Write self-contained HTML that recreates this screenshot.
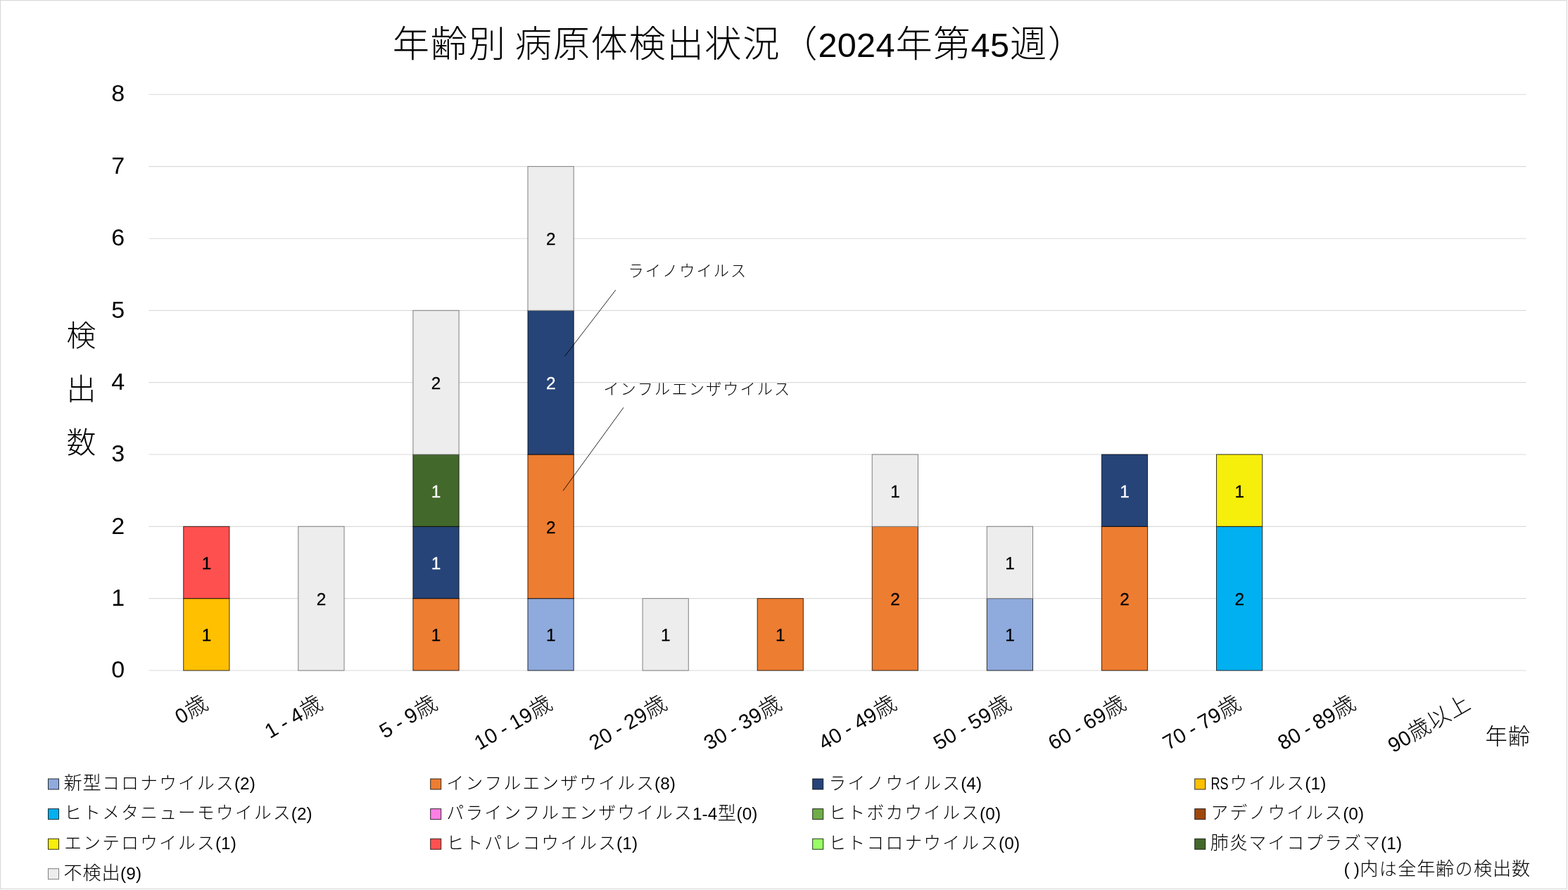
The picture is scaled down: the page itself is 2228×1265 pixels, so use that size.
<!DOCTYPE html>
<html lang="ja"><head><meta charset="utf-8"><title>年齢別 病原体検出状況（2024年第45週）</title>
<style>
html,body{margin:0;padding:0;background:#fff;}
body{width:2228px;height:1265px;overflow:hidden;}
svg{display:block;}
text{font-family:"Liberation Sans", "Noto Sans CJK JP", sans-serif;}
.l{font-family:"Liberation Sans", sans-serif;}
.j{font-family:"Liberation Sans", "Noto Sans CJK JP", sans-serif;}
</style></head><body>
<svg width="2228" height="1265" viewBox="0 0 2228 1265" role="img" aria-label="年齢別 病原体検出状況">
<rect x="0" y="0" width="2228" height="1265" fill="#fff"/>
<rect x="0.6" y="0.6" width="2225.8" height="1262.8" fill="none" stroke="#DADADA" stroke-width="1.2"/>
<g stroke="#D9D9D9" stroke-width="1.15" fill="none">
<line x1="211.5" y1="953.00" x2="2168.5" y2="953.00"/>
<line x1="211.5" y1="850.66" x2="2168.5" y2="850.66"/>
<line x1="211.5" y1="748.32" x2="2168.5" y2="748.32"/>
<line x1="211.5" y1="645.98" x2="2168.5" y2="645.98"/>
<line x1="211.5" y1="543.64" x2="2168.5" y2="543.64"/>
<line x1="211.5" y1="441.30" x2="2168.5" y2="441.30"/>
<line x1="211.5" y1="338.96" x2="2168.5" y2="338.96"/>
<line x1="211.5" y1="236.62" x2="2168.5" y2="236.62"/>
<line x1="211.5" y1="134.28" x2="2168.5" y2="134.28"/>
</g>
<g stroke-width="1">
<rect x="260.74" y="850.66" width="65.20" height="102.34" fill="#FFC000" stroke="#000" stroke-opacity="0.78"/>
<rect x="260.74" y="748.32" width="65.20" height="102.34" fill="#FF5050" stroke="#000" stroke-opacity="0.78"/>
<rect x="423.82" y="748.32" width="65.20" height="204.68" fill="#EDEDED" stroke="#7F7F7F"/>
<rect x="586.91" y="850.66" width="65.20" height="102.34" fill="#ED7D31" stroke="#000" stroke-opacity="0.78"/>
<rect x="586.91" y="748.32" width="65.20" height="102.34" fill="#264478" stroke="#000" stroke-opacity="0.78"/>
<rect x="586.91" y="645.98" width="65.20" height="102.34" fill="#43682B" stroke="#000" stroke-opacity="0.78"/>
<rect x="586.91" y="441.30" width="65.20" height="204.68" fill="#EDEDED" stroke="#7F7F7F"/>
<rect x="749.99" y="850.66" width="65.20" height="102.34" fill="#8FAADC" stroke="#000" stroke-opacity="0.78"/>
<rect x="749.99" y="645.98" width="65.20" height="204.68" fill="#ED7D31" stroke="#000" stroke-opacity="0.78"/>
<rect x="749.99" y="441.30" width="65.20" height="204.68" fill="#264478" stroke="#000" stroke-opacity="0.78"/>
<rect x="749.99" y="236.62" width="65.20" height="204.68" fill="#EDEDED" stroke="#7F7F7F"/>
<rect x="913.07" y="850.66" width="65.20" height="102.34" fill="#EDEDED" stroke="#7F7F7F"/>
<rect x="1076.16" y="850.66" width="65.20" height="102.34" fill="#ED7D31" stroke="#000" stroke-opacity="0.78"/>
<rect x="1239.24" y="748.32" width="65.20" height="204.68" fill="#ED7D31" stroke="#000" stroke-opacity="0.78"/>
<rect x="1239.24" y="645.98" width="65.20" height="102.34" fill="#EDEDED" stroke="#7F7F7F"/>
<rect x="1402.33" y="850.66" width="65.20" height="102.34" fill="#8FAADC" stroke="#000" stroke-opacity="0.78"/>
<rect x="1402.33" y="748.32" width="65.20" height="102.34" fill="#EDEDED" stroke="#7F7F7F"/>
<rect x="1565.41" y="748.32" width="65.20" height="204.68" fill="#ED7D31" stroke="#000" stroke-opacity="0.78"/>
<rect x="1565.41" y="645.98" width="65.20" height="102.34" fill="#264478" stroke="#000" stroke-opacity="0.78"/>
<rect x="1728.49" y="748.32" width="65.20" height="204.68" fill="#00B0F0" stroke="#000" stroke-opacity="0.78"/>
<rect x="1728.49" y="645.98" width="65.20" height="102.34" fill="#F6EE0B" stroke="#000" stroke-opacity="0.78"/>
</g>
<text fill="#000" xml:space="preserve"><tspan class="l" x="286.67" y="911.33" font-size="24.35" stroke="#000" stroke-width="0.3">1</tspan></text>
<text fill="#000" xml:space="preserve"><tspan class="l" x="286.67" y="808.99" font-size="24.35" stroke="#000" stroke-width="0.3">1</tspan></text>
<text fill="#000" xml:space="preserve"><tspan class="l" x="449.76" y="860.16" font-size="24.35" stroke="#000" stroke-width="0.3">2</tspan></text>
<text fill="#000" xml:space="preserve"><tspan class="l" x="612.84" y="911.33" font-size="24.35" stroke="#000" stroke-width="0.3">1</tspan></text>
<text fill="#fff" xml:space="preserve"><tspan class="l" x="612.84" y="808.99" font-size="24.35" stroke="#fff" stroke-width="0.3">1</tspan></text>
<text fill="#fff" xml:space="preserve"><tspan class="l" x="612.84" y="706.65" font-size="24.35" stroke="#fff" stroke-width="0.3">1</tspan></text>
<text fill="#000" xml:space="preserve"><tspan class="l" x="612.84" y="553.14" font-size="24.35" stroke="#000" stroke-width="0.3">2</tspan></text>
<text fill="#000" xml:space="preserve"><tspan class="l" x="775.92" y="911.33" font-size="24.35" stroke="#000" stroke-width="0.3">1</tspan></text>
<text fill="#000" xml:space="preserve"><tspan class="l" x="775.92" y="757.82" font-size="24.35" stroke="#000" stroke-width="0.3">2</tspan></text>
<text fill="#fff" xml:space="preserve"><tspan class="l" x="775.92" y="553.14" font-size="24.35" stroke="#fff" stroke-width="0.3">2</tspan></text>
<text fill="#000" xml:space="preserve"><tspan class="l" x="775.92" y="348.46" font-size="24.35" stroke="#000" stroke-width="0.3">2</tspan></text>
<text fill="#000" xml:space="preserve"><tspan class="l" x="939.01" y="911.33" font-size="24.35" stroke="#000" stroke-width="0.3">1</tspan></text>
<text fill="#000" xml:space="preserve"><tspan class="l" x="1102.09" y="911.33" font-size="24.35" stroke="#000" stroke-width="0.3">1</tspan></text>
<text fill="#000" xml:space="preserve"><tspan class="l" x="1265.17" y="860.16" font-size="24.35" stroke="#000" stroke-width="0.3">2</tspan></text>
<text fill="#000" xml:space="preserve"><tspan class="l" x="1265.17" y="706.65" font-size="24.35" stroke="#000" stroke-width="0.3">1</tspan></text>
<text fill="#000" xml:space="preserve"><tspan class="l" x="1428.26" y="911.33" font-size="24.35" stroke="#000" stroke-width="0.3">1</tspan></text>
<text fill="#000" xml:space="preserve"><tspan class="l" x="1428.26" y="808.99" font-size="24.35" stroke="#000" stroke-width="0.3">1</tspan></text>
<text fill="#000" xml:space="preserve"><tspan class="l" x="1591.34" y="860.16" font-size="24.35" stroke="#000" stroke-width="0.3">2</tspan></text>
<text fill="#fff" xml:space="preserve"><tspan class="l" x="1591.34" y="706.65" font-size="24.35" stroke="#fff" stroke-width="0.3">1</tspan></text>
<text fill="#000" xml:space="preserve"><tspan class="l" x="1754.42" y="860.16" font-size="24.35" stroke="#000" stroke-width="0.3">2</tspan></text>
<text fill="#000" xml:space="preserve"><tspan class="l" x="1754.42" y="706.65" font-size="24.35" stroke="#000" stroke-width="0.3">1</tspan></text>
<g stroke="#000" stroke-width="1" stroke-opacity="0.85" fill="none">
<line x1="874.8" y1="412.2" x2="802.3" y2="506.6"/>
<line x1="886.0" y1="579.2" x2="800.0" y2="697.5"/>
</g>
<text fill="#000" xml:space="preserve"><tspan class="j" x="892.53 916.80 941.06 965.32 989.59 1013.85 1038.12" y="393.40" font-size="22.20" font-weight="300">ライノウイルス</tspan></text>
<text fill="#000" xml:space="preserve"><tspan class="j" x="857.33 881.60 905.86 930.12 954.39 978.65 1002.92 1027.18 1051.44 1075.71 1099.97" y="560.60" font-size="22.20" font-weight="300">インフルエンザウイルス</tspan></text>
<text fill="#000" xml:space="preserve"><tspan class="l" x="158.26" y="963.20" font-size="34.08">0</tspan></text>
<text fill="#000" xml:space="preserve"><tspan class="l" x="158.26" y="860.86" font-size="34.08">1</tspan></text>
<text fill="#000" xml:space="preserve"><tspan class="l" x="158.26" y="758.52" font-size="34.08">2</tspan></text>
<text fill="#000" xml:space="preserve"><tspan class="l" x="158.26" y="656.18" font-size="34.08">3</tspan></text>
<text fill="#000" xml:space="preserve"><tspan class="l" x="158.26" y="553.84" font-size="34.08">4</tspan></text>
<text fill="#000" xml:space="preserve"><tspan class="l" x="158.26" y="451.50" font-size="34.08">5</tspan></text>
<text fill="#000" xml:space="preserve"><tspan class="l" x="158.26" y="349.16" font-size="34.08">6</tspan></text>
<text fill="#000" xml:space="preserve"><tspan class="l" x="158.26" y="246.82" font-size="34.08">7</tspan></text>
<text fill="#000" xml:space="preserve"><tspan class="l" x="158.26" y="144.48" font-size="34.08">8</tspan></text>
<text fill="#000"><tspan class="j" x="94.55 94.55 94.55" y="492.00 567.80 643.60" font-size="41.90" font-weight="300">検出数</tspan></text>
<g transform="translate(298.04,1005.50) rotate(-30)">
<text fill="#000" xml:space="preserve"><tspan class="l" x="-48.67" y="0.00" font-size="29.21">0</tspan><tspan class="j" x="-31.87" y="0.00" font-size="31.38" font-weight="300">歳</tspan></text>
</g>
<g transform="translate(461.12,1005.50) rotate(-30)">
<text fill="#000" xml:space="preserve"><tspan class="l" x="-89.61 -73.68 -65.88 -56.46 -48.67" y="0.00" font-size="29.21">1 - 4</tspan><tspan class="j" x="-31.87" y="0.00" font-size="31.38" font-weight="300">歳</tspan></text>
</g>
<g transform="translate(624.21,1005.50) rotate(-30)">
<text fill="#000" xml:space="preserve"><tspan class="l" x="-89.61 -73.68 -65.88 -56.46 -48.67" y="0.00" font-size="29.21">5 - 9</tspan><tspan class="j" x="-31.87" y="0.00" font-size="31.38" font-weight="300">歳</tspan></text>
</g>
<g transform="translate(787.29,1005.50) rotate(-30)">
<text fill="#000" xml:space="preserve"><tspan class="l" x="-122.40 -106.00 -90.08 -82.28 -72.86 -65.07 -48.67" y="0.00" font-size="29.21">10 - 19</tspan><tspan class="j" x="-31.87" y="0.00" font-size="31.38" font-weight="300">歳</tspan></text>
</g>
<g transform="translate(950.38,1005.50) rotate(-30)">
<text fill="#000" xml:space="preserve"><tspan class="l" x="-122.40 -106.00 -90.08 -82.28 -72.86 -65.07 -48.67" y="0.00" font-size="29.21">20 - 29</tspan><tspan class="j" x="-31.87" y="0.00" font-size="31.38" font-weight="300">歳</tspan></text>
</g>
<g transform="translate(1113.46,1005.50) rotate(-30)">
<text fill="#000" xml:space="preserve"><tspan class="l" x="-122.40 -106.00 -90.08 -82.28 -72.86 -65.07 -48.67" y="0.00" font-size="29.21">30 - 39</tspan><tspan class="j" x="-31.87" y="0.00" font-size="31.38" font-weight="300">歳</tspan></text>
</g>
<g transform="translate(1276.54,1005.50) rotate(-30)">
<text fill="#000" xml:space="preserve"><tspan class="l" x="-122.40 -106.00 -90.08 -82.28 -72.86 -65.07 -48.67" y="0.00" font-size="29.21">40 - 49</tspan><tspan class="j" x="-31.87" y="0.00" font-size="31.38" font-weight="300">歳</tspan></text>
</g>
<g transform="translate(1439.62,1005.50) rotate(-30)">
<text fill="#000" xml:space="preserve"><tspan class="l" x="-122.40 -106.00 -90.08 -82.28 -72.86 -65.07 -48.67" y="0.00" font-size="29.21">50 - 59</tspan><tspan class="j" x="-31.87" y="0.00" font-size="31.38" font-weight="300">歳</tspan></text>
</g>
<g transform="translate(1602.71,1005.50) rotate(-30)">
<text fill="#000" xml:space="preserve"><tspan class="l" x="-122.40 -106.00 -90.08 -82.28 -72.86 -65.07 -48.67" y="0.00" font-size="29.21">60 - 69</tspan><tspan class="j" x="-31.87" y="0.00" font-size="31.38" font-weight="300">歳</tspan></text>
</g>
<g transform="translate(1765.79,1005.50) rotate(-30)">
<text fill="#000" xml:space="preserve"><tspan class="l" x="-122.40 -106.00 -90.08 -82.28 -72.86 -65.07 -48.67" y="0.00" font-size="29.21">70 - 79</tspan><tspan class="j" x="-31.87" y="0.00" font-size="31.38" font-weight="300">歳</tspan></text>
</g>
<g transform="translate(1928.88,1005.50) rotate(-30)">
<text fill="#000" xml:space="preserve"><tspan class="l" x="-122.40 -106.00 -90.08 -82.28 -72.86 -65.07 -48.67" y="0.00" font-size="29.21">80 - 89</tspan><tspan class="j" x="-31.87" y="0.00" font-size="31.38" font-weight="300">歳</tspan></text>
</g>
<g transform="translate(2091.96,1005.50) rotate(-30)">
<text fill="#000" xml:space="preserve"><tspan class="l" x="-129.77 -113.38" y="0.00" font-size="29.21">90</tspan><tspan class="j" x="-96.57 -64.22 -31.87" y="0.00" font-size="31.38" font-weight="300">歳以上</tspan></text>
</g>
<text fill="#000" xml:space="preserve"><tspan class="j" x="2110.49 2142.84" y="1057.50" font-size="31.38" font-weight="300">年齢</tspan></text>
<text fill="#000" xml:space="preserve"><tspan class="j" x="557.81 611.73 665.65" y="81.00" font-size="52.30" font-weight="300">年齢別</tspan><tspan class="l" x="718.09" y="81.00" font-size="48.69"> </tspan><tspan class="j" x="731.76 785.68 839.60 893.52 947.44 1001.36 1055.28 1109.20" y="81.00" font-size="52.30" font-weight="300">病原体検出状況（</tspan><tspan class="l" x="1162.43 1189.76 1217.08 1244.41" y="81.00" font-size="48.69">2024</tspan><tspan class="j" x="1272.42 1326.34" y="81.00" font-size="52.30" font-weight="300">年第</tspan><tspan class="l" x="1379.58 1406.90" y="81.00" font-size="48.69">45</tspan><tspan class="j" x="1434.91 1488.83" y="81.00" font-size="52.30" font-weight="300">週）</tspan></text>
<rect x="68.50" y="1107.00" width="15" height="15" fill="#8FAADC" stroke="#000" stroke-width="1" stroke-opacity="0.8"/>
<text fill="#000" xml:space="preserve"><tspan class="j" x="90.60 117.56" y="1122.20" font-size="26.15" font-weight="300">新型</tspan><tspan class="j" x="145.27 172.23 199.19 226.15 253.11 280.07 307.03" y="1121.80" font-size="24.67" font-weight="300">コロナウイルス</tspan><tspan class="l" x="332.88 341.08 354.71" y="1122.20" font-size="24.35">(2)</tspan></text>
<rect x="611.70" y="1107.00" width="15" height="15" fill="#ED7D31" stroke="#000" stroke-width="1" stroke-opacity="0.8"/>
<text fill="#000" xml:space="preserve"><tspan class="j" x="634.55 661.51 688.47 715.43 742.39 769.35 796.31 823.27 850.23 877.19 904.15" y="1121.80" font-size="24.67" font-weight="300">インフルエンザウイルス</tspan><tspan class="l" x="930.00 938.20 951.84" y="1122.20" font-size="24.35">(8)</tspan></text>
<rect x="1154.70" y="1107.00" width="15" height="15" fill="#264478" stroke="#000" stroke-width="1" stroke-opacity="0.8"/>
<text fill="#000" xml:space="preserve"><tspan class="j" x="1177.55 1204.51 1231.47 1258.43 1285.39 1312.35 1339.31" y="1121.80" font-size="24.67" font-weight="300">ライノウイルス</tspan><tspan class="l" x="1365.16 1373.36 1386.99" y="1122.20" font-size="24.35">(4)</tspan></text>
<rect x="1697.70" y="1107.00" width="15" height="15" fill="#FFC000" stroke="#000" stroke-width="1" stroke-opacity="0.8"/>
<text fill="#000" xml:space="preserve"><tspan class="l" x="1720.48" y="1122.20" font-size="24.35" textLength="24.87" lengthAdjust="spacingAndGlyphs">RS</tspan><tspan class="j" x="1747.57 1774.53 1801.49 1828.45" y="1121.80" font-size="24.67" font-weight="300">ウイルス</tspan><tspan class="l" x="1854.30 1862.51 1876.14" y="1122.20" font-size="24.35">(1)</tspan></text>
<rect x="68.50" y="1149.60" width="15" height="15" fill="#00B0F0" stroke="#000" stroke-width="1" stroke-opacity="0.8"/>
<text fill="#000" xml:space="preserve"><tspan class="j" x="91.35 118.31 145.27 172.23 199.19 226.15 253.11 280.07 307.03 333.99 360.95 387.91" y="1164.40" font-size="24.67" font-weight="300">ヒトメタニューモウイルス</tspan><tspan class="l" x="413.76 421.96 435.60" y="1164.80" font-size="24.35">(2)</tspan></text>
<rect x="611.70" y="1149.60" width="15" height="15" fill="#FF7FE5" stroke="#000" stroke-width="1" stroke-opacity="0.8"/>
<text fill="#000" xml:space="preserve"><tspan class="j" x="634.55 661.51 688.47 715.43 742.39 769.35 796.31 823.27 850.23 877.19 904.15 931.11 958.07" y="1164.40" font-size="24.67" font-weight="300">パラインフルエンザウイルス</tspan><tspan class="l" x="983.95 997.62 1005.87" y="1164.80" font-size="24.35">1-4</tspan><tspan class="j" x="1019.87" y="1164.80" font-size="26.15" font-weight="300">型</tspan><tspan class="l" x="1046.46 1054.66 1068.30" y="1164.80" font-size="24.35">(0)</tspan></text>
<rect x="1154.70" y="1149.60" width="15" height="15" fill="#70AD47" stroke="#000" stroke-width="1" stroke-opacity="0.8"/>
<text fill="#000" xml:space="preserve"><tspan class="j" x="1177.55 1204.51 1231.47 1258.43 1285.39 1312.35 1339.31 1366.27" y="1164.40" font-size="24.67" font-weight="300">ヒトボカウイルス</tspan><tspan class="l" x="1392.12 1400.32 1413.95" y="1164.80" font-size="24.35">(0)</tspan></text>
<rect x="1697.70" y="1149.60" width="15" height="15" fill="#9E480E" stroke="#000" stroke-width="1" stroke-opacity="0.8"/>
<text fill="#000" xml:space="preserve"><tspan class="j" x="1720.55 1747.51 1774.47 1801.43 1828.39 1855.35 1882.31" y="1164.40" font-size="24.67" font-weight="300">アデノウイルス</tspan><tspan class="l" x="1908.16 1916.36 1929.99" y="1164.80" font-size="24.35">(0)</tspan></text>
<rect x="68.50" y="1192.20" width="15" height="15" fill="#F6EE0B" stroke="#000" stroke-width="1" stroke-opacity="0.8"/>
<text fill="#000" xml:space="preserve"><tspan class="j" x="91.35 118.31 145.27 172.23 199.19 226.15 253.11 280.07" y="1207.00" font-size="24.67" font-weight="300">エンテロウイルス</tspan><tspan class="l" x="305.92 314.12 327.75" y="1207.40" font-size="24.35">(1)</tspan></text>
<rect x="611.70" y="1192.20" width="15" height="15" fill="#FF5050" stroke="#000" stroke-width="1" stroke-opacity="0.8"/>
<text fill="#000" xml:space="preserve"><tspan class="j" x="634.55 661.51 688.47 715.43 742.39 769.35 796.31 823.27 850.23" y="1207.00" font-size="24.67" font-weight="300">ヒトパレコウイルス</tspan><tspan class="l" x="876.08 884.28 897.91" y="1207.40" font-size="24.35">(1)</tspan></text>
<rect x="1154.70" y="1192.20" width="15" height="15" fill="#99FF66" stroke="#000" stroke-width="1" stroke-opacity="0.8"/>
<text fill="#000" xml:space="preserve"><tspan class="j" x="1177.55 1204.51 1231.47 1258.43 1285.39 1312.35 1339.31 1366.27 1393.23" y="1207.00" font-size="24.67" font-weight="300">ヒトコロナウイルス</tspan><tspan class="l" x="1419.08 1427.28 1440.91" y="1207.40" font-size="24.35">(0)</tspan></text>
<rect x="1697.70" y="1192.20" width="15" height="15" fill="#43682B" stroke="#000" stroke-width="1" stroke-opacity="0.8"/>
<text fill="#000" xml:space="preserve"><tspan class="j" x="1719.80 1746.76" y="1207.40" font-size="26.15" font-weight="300">肺炎</tspan><tspan class="j" x="1774.47 1801.43 1828.39 1855.35 1882.31 1909.27 1936.23" y="1207.00" font-size="24.67" font-weight="300">マイコプラズマ</tspan><tspan class="l" x="1962.08 1970.28 1983.91" y="1207.40" font-size="24.35">(1)</tspan></text>
<rect x="68.50" y="1234.70" width="15" height="15" fill="#EDEDED" stroke="#7F7F7F" stroke-width="1"/>
<text fill="#000" xml:space="preserve"><tspan class="j" x="90.60 117.56 144.53" y="1249.90" font-size="26.15" font-weight="300">不検出</tspan><tspan class="l" x="171.11 179.32 192.95" y="1249.90" font-size="24.35">(9)</tspan></text>
<text fill="#000" xml:space="preserve"><tspan class="l" x="1909.45 1917.25 1923.72" y="1244.20" font-size="24.35">( )</tspan><tspan class="j" x="1932.26" y="1244.20" font-size="26.15" font-weight="300">内</tspan><tspan class="j" x="1959.96" y="1244.20" font-size="24.67" font-weight="300">は</tspan><tspan class="j" x="1986.18 2013.14 2040.10" y="1244.20" font-size="26.15" font-weight="300">全年齢</tspan><tspan class="j" x="2067.80" y="1244.20" font-size="24.67" font-weight="300">の</tspan><tspan class="j" x="2094.02 2120.98 2147.94" y="1244.20" font-size="26.15" font-weight="300">検出数</tspan></text>
</svg>
</body></html>
